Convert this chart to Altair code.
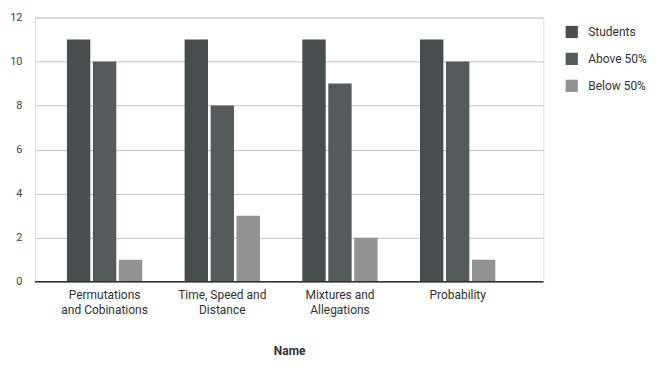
import altair as alt
import pandas as pd

categories = ["Permutations|and Cobinations", "Time, Speed and|Distance", "Mixtures and|Allegations", "Probability"]
series = ["Students", "Above 50%", "Below 50%"]
students = [11, 11, 11, 11]
above = [10, 8, 9, 10]
below = [1, 3, 2, 1]
colors = ["#4a4d4d", "#575a5a", "#929292"]

rows = []
for i, c in enumerate(categories):
    for s, vals in zip(series, [students, above, below]):
        rows.append({"Name": c, "Series": s, "Value": vals[i]})
df = pd.DataFrame(rows)

bars = alt.Chart(df).mark_bar().encode(
    x=alt.X("Name:N", sort=categories, title="Name",
            scale=alt.Scale(paddingInner=0.36, paddingOuter=0.34, align=0.4),
            axis=alt.Axis(labelAngle=0, labelExpr="split(datum.label, '|')",
                          labelFont="Roboto", labelFontSize=12, labelColor="#333",
                          labelLineHeight=15, ticks=False, domain=False, labelPadding=8,
                          titleFont="Roboto", titleFontSize=12, titleFontWeight="bold",
                          titleColor="#333", titlePadding=30)),
    xOffset=alt.XOffset("Series:N", sort=series, scale=alt.Scale(paddingInner=0.1)),
    y=alt.Y("Value:Q", title=None,
            scale=alt.Scale(domain=[0, 12]),
            axis=alt.Axis(values=[0, 2, 4, 6, 8, 10, 12], labelFont="Roboto",
                          labelFontSize=11, labelColor="#444", ticks=False, domain=False,
                          labelPadding=13, gridColor="#c4c4c4", gridWidth=1)),
    color=alt.Color("Series:N", sort=series,
                    scale=alt.Scale(domain=series, range=colors),
                    legend=alt.Legend(title=None, symbolType="square", symbolSize=150,
                                      symbolStrokeWidth=0, labelFont="Roboto",
                                      labelFontSize=12, labelColor="#333",
                                      rowPadding=14, offset=14, padding=8,
                                      labelOffset=10)),
)

base = alt.Chart(pd.DataFrame({"v": [0]})).mark_rule(color="#333", strokeWidth=1.5).encode(
    y="v:Q"
)

chart = alt.layer(bars, base).properties(
    width=510, height=265,
    autosize=alt.AutoSizeParams(type="none"),
    padding={"left": 27, "top": 9, "right": 110, "bottom": 80},
).configure_view(stroke=None).configure(background="white")

chart.save("out.html", embed_options={"renderer": "svg", "actions": False})
